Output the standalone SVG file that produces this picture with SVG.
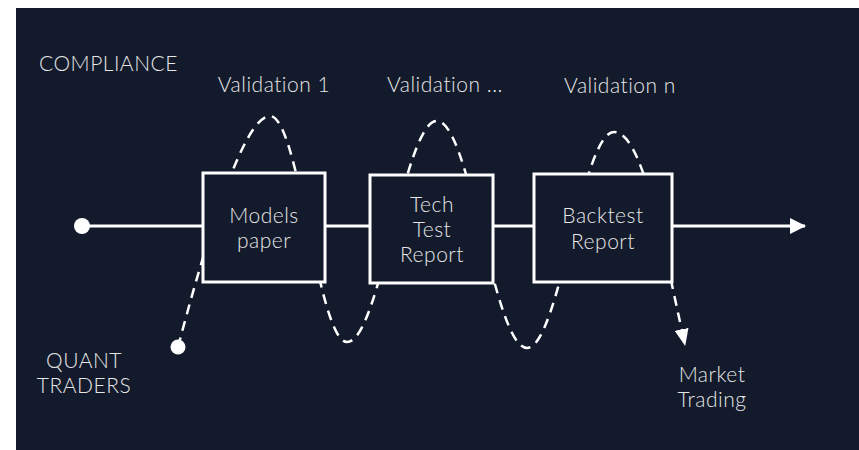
<svg xmlns="http://www.w3.org/2000/svg" width="859" height="450" viewBox="0 0 859 450">
<defs>
<style>
.bg{fill:#121a2b}
.box{fill:#121a2b;stroke:#ffffff;stroke-width:3}
.line{fill:none;stroke:#ffffff;stroke-width:3}
.wave{fill:none;stroke:#ffffff;stroke-width:2.5;stroke-dasharray:10 7}
.dot{fill:#ffffff}
text{font-family:Lato,"Liberation Sans",sans-serif;font-weight:300;font-size:21px;letter-spacing:0.5px;fill:#e6e6e6}
.c{text-anchor:middle}
</style>
<marker id="ah" markerWidth="16" markerHeight="16" viewBox="0 0 16 16" refX="15" refY="8" orient="auto" markerUnits="userSpaceOnUse">
<path d="M0,0 L16,8 L0,16 Z" fill="#ffffff"/>
</marker>
<marker id="ah2" markerWidth="17" markerHeight="14" viewBox="0 0 17 14" refX="16" refY="7" orient="auto" markerUnits="userSpaceOnUse">
<path d="M0,0 L17,7 L0,14 Z" fill="#ffffff"/>
</marker>
</defs>
<rect class="bg" x="16" y="8" width="843" height="442"/>
<g id="connectors">
<line class="line" x1="82" y1="226" x2="805" y2="226" marker-end="url(#ah)"/>
<circle class="dot" cx="82" cy="226" r="8"/>
<path class="wave" d="M178,347 C205,245 243,116 270,116 C299,116 318,342 347,342 C380,342 404,121 437,121 C470,121 494,348 527,348 C559,348 582,132 614,132 C641,132 660,230 685,345" marker-end="url(#ah2)"/>
<circle class="dot" cx="178" cy="347" r="7.5"/>
</g>
<g id="node-models">
<rect class="box" x="203" y="173" width="122" height="109"/>
<text class="c" x="264" y="223">Models</text>
<text class="c" x="264" y="248">paper</text>
</g>
<g id="node-tech">
<rect class="box" x="370" y="175" width="123" height="108"/>
<text class="c" x="432" y="212">Tech</text>
<text class="c" x="432" y="237">Test</text>
<text class="c" x="432" y="262">Report</text>
</g>
<g id="node-backtest">
<rect class="box" x="534" y="174" width="138" height="108"/>
<text class="c" x="603" y="223">Backtest</text>
<text class="c" x="603" y="249">Report</text>
</g>
<g id="labels">
<text x="39" y="71">COMPLIANCE</text>
<text class="c" x="274" y="92">Validation 1</text>
<text class="c" x="445" y="92">Validation ...</text>
<text class="c" x="620" y="93">Validation n</text>
<text class="c" x="84" y="368">QUANT</text>
<text class="c" x="84" y="393">TRADERS</text>
<text class="c" x="712" y="382">Market</text>
<text class="c" x="712" y="407">Trading</text>
</g>
</svg>
